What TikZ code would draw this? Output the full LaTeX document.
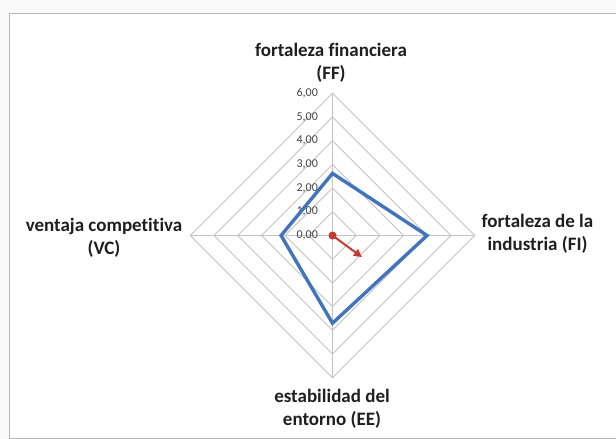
\documentclass[tikz,border=0pt]{standalone}
\usepackage{fontspec}
\setmainfont{Carlito}[Ligatures=NoCommon]
\usetikzlibrary{arrows.meta}
\definecolor{gridgray}{RGB}{195,195,195}
\definecolor{frame}{RGB}{185,185,185}
\definecolor{serieblue}{RGB}{66,116,190}
\definecolor{vecred}{RGB}{200,55,50}
\definecolor{ticktext}{RGB}{70,70,70}
\tikzset{
  gridline/.style={draw=gridgray, line width=0.9pt},
  serie/.style={draw=serieblue, line width=3.4pt, line join=miter},
  vector/.style={draw=vecred, line width=2pt, -{Triangle[length=8pt,width=8pt]}},
  axislabel/.style={align=center, inner sep=0pt, text=black!88,
    font=\fontsize{19}{23.5}\selectfont\bfseries},
  ticklabel/.style={anchor=east, inner sep=0pt, text=ticktext,
    font=\fontsize{12}{13}\selectfont},
}

\begin{document}
\begin{tikzpicture}[x=1pt, y=-1pt]% picture measured in px, y going down
    \useasboundingbox (0,0) rectangle (616,439);
    \fill[gray!5] (0,0) rectangle (616,439);
    \filldraw[fill=white, draw=frame, line width=1pt] (9,13) rectangle (640,438);
    \begin{scope}[shift={(332.5,235.5)}, x=23.7pt, y=23.7pt]% one unit = 1,00
        \foreach \a/\n in {90/ff, 0/fi, 270/ee, 180/vc} {
            \coordinate (\n) at (\a:6);
        }
        \foreach \r in {1,...,6} {
            \draw[gridline] (90:\r) -- (0:\r) -- (270:\r) -- (180:\r) -- cycle;
        }
        \draw[gridline] (ff) -- (ee);
        \draw[gridline] (vc) -- (fi);
        \foreach \r in {0,...,6} {
            \node[ticklabel] (t\r) at (-0.61,\r) {\r,00};
        }
        % serie
        \coordinate (dff) at (90:2.62);
        \coordinate (dfi) at (0:3.99);
        \coordinate (dee) at (270:3.70);
        \coordinate (dvc) at (180:2.17);
        \draw[serie] (dff) -- (dfi) -- (dee) -- (dvc) -- cycle;
        % vector
        \node[fill=vecred, circle, inner sep=0pt, minimum size=8pt] (o) at (0,0) {};
        \coordinate (v) at (1.24,-0.91);
        \draw[vector] (o.center) -- (v);
    \end{scope}
    \node[axislabel] (lff) at (331,63) {fortaleza financiera\\(FF)};
    \node[axislabel] (lfi) at (537.5,234) {fortaleza de la\\industria (FI)};
    \node[axislabel] (lee) at (332,409) {estabilidad del\\entorno (EE)};
    \node[axislabel] (lvc) at (104,238) {ventaja competitiva\\(VC)};
\end{tikzpicture}
\end{document}
